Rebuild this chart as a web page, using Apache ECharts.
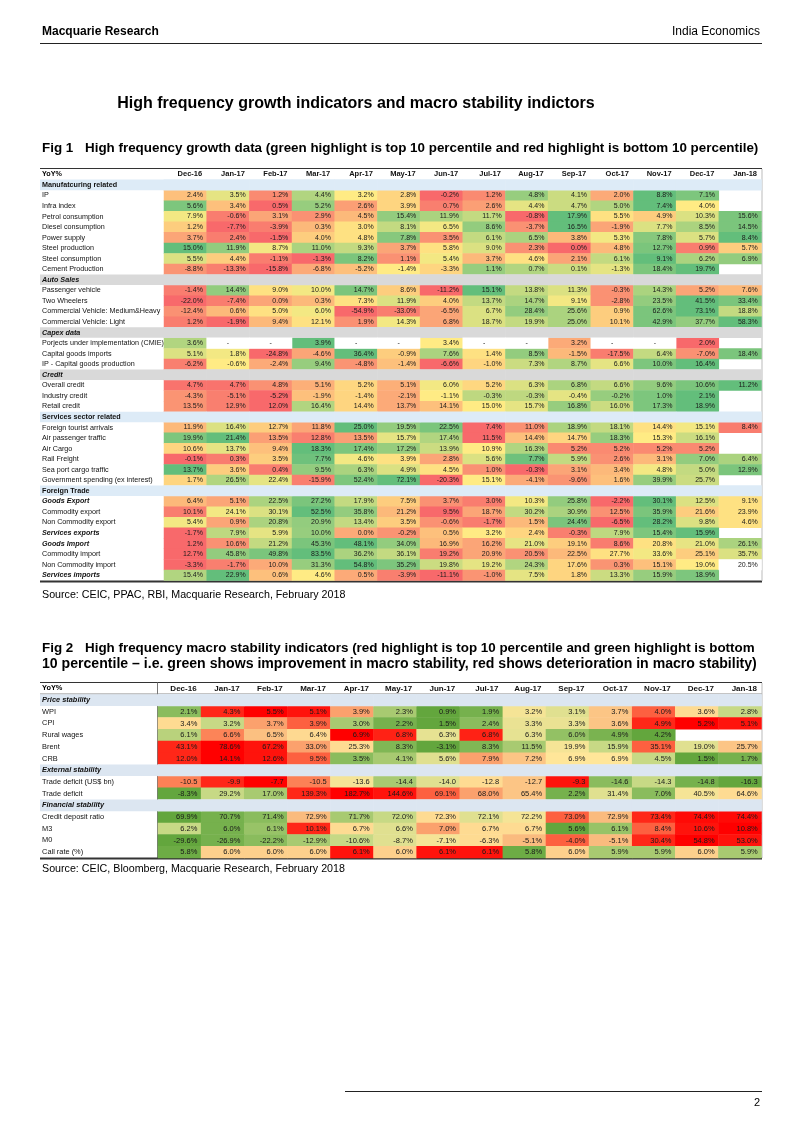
<!DOCTYPE html>
<html><head><meta charset="utf-8">
<script src="https://cdn.jsdelivr.net/npm/echarts@6/dist/echarts.min.js"></script>
<style>html,body{margin:0;padding:0;background:#fff}#c{width:802px;height:1133px}</style>
</head><body><div id="c"></div>
<script>
// ---------- categories ----------
const months = ['Dec-16','Jan-17','Feb-17','Mar-17','Apr-17','May-17','Jun-17','Jul-17','Aug-17','Sep-17','Oct-17','Nov-17','Dec-17','Jan-18'];

// ---------- Fig 1 values (YoY %) ----------
const ip            = [2.4, 3.5, 1.2, 4.4, 3.2, 2.8, -0.2, 1.2, 4.8, 4.1, 2.0, 8.8, 7.1, null];
const infraIndex    = [5.6, 3.4, 0.5, 5.2, 2.6, 3.9, 0.7, 2.6, 4.4, 4.7, 5.0, 7.4, 4.0, null];
const petrol        = [7.9, -0.6, 3.1, 2.9, 4.5, 15.4, 11.9, 11.7, -0.8, 17.9, 5.5, 4.9, 10.3, 15.6];
const diesel        = [1.2, -7.7, -3.9, 0.3, 3.0, 8.1, 6.5, 8.6, -3.7, 16.5, -1.9, 7.7, 8.5, 14.5];
const power         = [3.7, 2.4, -1.5, 4.0, 4.8, 7.8, 3.5, 6.1, 6.5, 3.8, 5.3, 7.8, 5.7, 8.4];
const steelProd     = [15.0, 11.9, 8.7, 11.0, 9.3, 3.7, 5.8, 9.0, 2.3, 0.0, 4.8, 12.7, 0.9, 5.7];
const steelCons     = [5.5, 4.4, -1.1, -1.3, 8.2, 1.1, 5.4, 3.7, 4.6, 2.1, 6.1, 9.1, 6.2, 6.9];
const cement        = [-8.8, -13.3, -15.8, -6.8, -5.2, -1.4, -3.3, 1.1, 0.7, 0.1, -1.3, 18.4, 19.7, null];
const passenger     = [-1.4, 14.4, 9.0, 10.0, 14.7, 8.6, -11.2, 15.1, 13.8, 11.3, -0.3, 14.3, 5.2, 7.6];
const twoWheelers   = [-22.0, -7.4, 0.0, 0.3, 7.3, 11.9, 4.0, 13.7, 14.7, 9.1, -2.8, 23.5, 41.5, 33.4];
const cvMedHeavy    = [-12.4, 0.6, 5.0, 6.0, -54.9, -33.0, -6.5, 6.7, 28.4, 25.6, 0.9, 62.6, 73.1, 18.8];
const cvLight       = [1.2, -1.9, 9.4, 12.1, 1.9, 14.3, 6.8, 18.7, 19.9, 25.0, 10.1, 42.9, 37.7, 58.3];
const projects      = [3.6, '-', '-', 3.9, '-', '-', 3.4, '-', '-', 3.2, '-', '-', 2.0, null];
const capGoodsImp   = [5.1, 1.8, -24.8, -4.6, 36.4, -0.9, 7.6, 1.4, 8.5, -1.5, -17.5, 6.4, -7.0, 18.4];
const ipCapGoods    = [-6.2, -0.6, -2.4, 9.4, -4.8, -1.4, -6.6, -1.0, 7.3, 8.7, 6.6, 10.0, 16.4, null];
const overallCredit = [4.7, 4.7, 4.8, 5.1, 5.2, 5.1, 6.0, 5.2, 6.3, 6.8, 6.6, 9.6, 10.6, 11.2];
const industryCredit= [-4.3, -5.1, -5.2, -1.9, -1.4, -2.1, -1.1, -0.3, -0.3, -0.4, -0.2, 1.0, 2.1, null];
const retailCredit  = [13.5, 12.9, 12.0, 16.4, 14.4, 13.7, 14.1, 15.0, 15.7, 16.8, 16.0, 17.3, 18.9, null];
const tourists      = [11.9, 16.4, 12.7, 11.8, 25.0, 19.5, 22.5, 7.4, 11.0, 18.9, 18.1, 14.4, 15.1, 8.4];
const airPassenger  = [19.9, 21.4, 13.5, 12.8, 13.5, 15.7, 17.4, 11.5, 14.4, 14.7, 18.3, 15.3, 16.1, null];
const airCargo      = [10.6, 13.7, 9.4, 18.3, 17.4, 17.2, 13.9, 10.9, 16.3, 5.2, 5.2, 5.2, 5.2, null];
const railFreight   = [-0.1, 0.3, 3.5, 7.7, 4.6, 3.9, 2.8, 5.6, 7.7, 5.9, 2.6, 3.1, 7.0, 6.4];
const seaPort       = [13.7, 3.6, 0.4, 9.5, 6.3, 4.9, 4.5, 1.0, -0.3, 3.1, 3.4, 4.8, 5.0, 12.9];
const govSpending   = [1.7, 26.5, 22.4, -15.9, 52.4, 72.1, -20.3, 15.1, -4.1, -9.6, 1.6, 39.9, 25.7, null];
const goodsExport   = [6.4, 5.1, 22.5, 27.2, 17.9, 7.5, 3.7, 3.0, 10.3, 25.8, -2.2, 30.1, 12.5, 9.1];
const commodityExp  = [10.1, 24.1, 30.1, 52.5, 35.8, 21.2, 9.5, 18.7, 30.2, 30.9, 12.5, 35.9, 21.6, 23.9];
const nonCommodityExp=[5.4, 0.9, 20.8, 20.9, 13.4, 3.5, -0.6, -1.7, 1.5, 24.4, -6.5, 28.2, 9.8, 4.6];
const servicesExp   = [-1.7, 7.9, 5.9, 10.0, 0.0, -0.2, 0.5, 3.2, 2.4, -0.3, 7.9, 15.4, 15.9, null];
const goodsImport   = [1.2, 10.6, 21.2, 45.3, 48.1, 34.0, 16.9, 16.2, 21.0, 19.1, 8.6, 20.8, 21.0, 26.1];
const commodityImp  = [12.7, 45.8, 49.8, 83.5, 36.2, 36.1, 19.2, 20.9, 20.5, 22.5, 27.7, 33.6, 25.1, 35.7];
const nonCommodityImp=[-3.3, -1.7, 10.0, 31.3, 54.8, 35.2, 19.8, 19.2, 24.3, 17.6, 0.3, 15.1, 19.0, 20.5];
const servicesImp   = [15.4, 22.9, 0.6, 4.6, 0.5, -3.9, -11.1, -1.0, 7.5, 1.8, 13.3, 15.9, 18.9, null];

// ---------- Fig 2 values ----------
const wpi           = [2.1, 4.3, 5.5, 5.1, 3.9, 2.3, 0.9, 1.9, 3.2, 3.1, 3.7, 4.0, 3.6, 2.8];
const cpi           = [3.4, 3.2, 3.7, 3.9, 3.0, 2.2, 1.5, 2.4, 3.3, 3.3, 3.6, 4.9, 5.2, 5.1];
const ruralWages    = [6.1, 6.6, 6.5, 6.4, 6.9, 6.8, 6.3, 6.8, 6.3, 6.0, 4.9, 4.2, null, null];
const brent         = [43.1, 78.6, 67.2, 33.0, 25.3, 8.3, -3.1, 8.3, 11.5, 19.9, 15.9, 35.1, 19.0, 25.7];
const crb           = [12.0, 14.1, 12.6, 9.5, 3.5, 4.1, 5.6, 7.9, 7.2, 6.9, 6.9, 4.5, 1.5, 1.7];
const tradeDefBn    = [-10.5, -9.9, -7.7, -10.5, -13.6, -14.4, -14.0, -12.8, -12.7, -9.3, -14.6, -14.3, -14.8, -16.3];
const tradeDefPct   = [-8.3, 29.2, 17.0, 139.3, 182.7, 144.6, 69.1, 68.0, 65.4, 2.2, 31.4, 7.0, 40.5, 64.6];
const creditDeposit = [69.9, 70.7, 71.4, 72.9, 71.7, 72.0, 72.3, 72.1, 72.2, 73.0, 72.9, 73.4, 74.4, 74.4];
const m3            = [6.2, 6.0, 6.1, 10.1, 6.7, 6.6, 7.0, 6.7, 6.7, 5.6, 6.1, 8.4, 10.6, 10.8];
const m0            = [-29.6, -26.9, -22.2, -12.9, -10.6, -8.7, -7.1, -6.3, -5.1, -4.0, -5.1, 30.4, 54.8, 53.0];
const callRate      = [5.8, 6.0, 6.0, 6.0, 6.1, 6.0, 6.1, 6.1, 5.8, 6.0, 5.9, 5.9, 6.0, 5.9];

// ---------- table layouts ----------
const t1Rows = [
  {section:'Manufatcuring related'},
  ['IP', ip], ['Infra index', infraIndex], ['Petrol consumption', petrol], ['Diesel consumption', diesel],
  ['Power supply', power], ['Steel production', steelProd], ['Steel consumption', steelCons], ['Cement Production', cement],
  {section:'Auto Sales'},
  ['Passenger vehicle', passenger], ['Two Wheelers', twoWheelers], ['Commercial Vehicle: Medium&Heavy', cvMedHeavy], ['Commercial Vehicle: Light', cvLight],
  {section:'Capex data'},
  ['Porjects under implementation (CMIE)', projects], ['Capital goods imports', capGoodsImp], ['IP - Capital goods production', ipCapGoods],
  {section:'Credit'},
  ['Overall credit', overallCredit], ['Industry credit', industryCredit], ['Retail credit', retailCredit],
  {section:'Services sector related'},
  ['Foreign tourist arrivals', tourists], ['Air passenger traffic', airPassenger], ['Air Cargo', airCargo],
  ['Rail Freight', railFreight], ['Sea port cargo traffic', seaPort], ['Government spending (ex interest)', govSpending],
  {section:'Foreign Trade'},
  ['Goods Export', goodsExport], ['Commodity export', commodityExp], ['Non Commodity export', nonCommodityExp], ['Services exports', servicesExp],
  ['Goods Import', goodsImport], ['Commodity import', commodityImp], ['Non Commodity import', nonCommodityImp], ['Services imports', servicesImp]
];
const t2Rows = [
  {section:'Price stability'},
  ['WPI', wpi], ['CPI', cpi], ['Rural wages', ruralWages], ['Brent', brent], ['CRB', crb],
  {section:'External stability'},
  ['Trade deficit (US$ bn)', tradeDefBn], ['Trade deficit', tradeDefPct],
  {section:'Financial stability'},
  ['Credit deposit ratio', creditDeposit], ['M3', m3], ['M0', m0], ['Call rate (%)', callRate]
];
const plainNumberRows = ['Trade deficit (US$ bn)'];
const uncoloredCells = [['Non Commodity import', 'Jan-18']];
const boldItalicRows = ['Goods Export', 'Services exports', 'Goods Import', 'Services imports'];

// ---------- styling ----------
const BLUE = '#DDEBF7', GRAY = '#D9D9D9', BLUE2 = '#DCE6F1';
const sectionStyle = {
  'Manufatcuring related': ['bb', BLUE], 'Auto Sales': ['gi', GRAY], 'Capex data': ['gi', GRAY],
  'Credit': ['gi', GRAY], 'Services sector related': ['bb', BLUE], 'Foreign Trade': ['bb', BLUE],
  'Price stability': ['bi2', BLUE2], 'External stability': ['bi2', BLUE2], 'Financial stability': ['bi2', BLUE2]
};
const LF = '"Liberation Sans", Arial, sans-serif';
const VF = '"Liberation Sans Narrow", "Liberation Sans", Arial, sans-serif';

function rankScores(arr, skip) {
  const nums = [];
  arr.forEach((v, i) => { if (typeof v === 'number' && !skip.includes(i)) nums.push({v, i}); });
  nums.sort((a, b) => a.v - b.v);
  const n = nums.length, res = {};
  let i = 0;
  while (i < n) {
    let j = i;
    while (j + 1 < n && nums[j + 1].v === nums[i].v) j++;
    const r = (i + j) / 2;
    for (let k = i; k <= j; k++) res[nums[k].i] = n > 1 ? r / (n - 1) : 0.5;
    i = j + 1;
  }
  return res;
}

function build(rows) {
  const yLabels = [], cells = [], secCells = [], plainCells = [];
  rows.forEach((r, yi) => {
    if (r.section) {
      yLabels.push(r.section);
      months.forEach((m, xi) => secCells.push({value: [xi, yi, 0], itemStyle: {color: sectionStyle[r.section][1]}}));
      return;
    }
    const name = r[0], vals = r[1];
    yLabels.push(name);
    const skip = uncoloredCells.filter(u => u[0] === name).map(u => months.indexOf(u[1]));
    const sc = rankScores(vals, skip);
    const fmt = v => plainNumberRows.includes(name) ? v.toFixed(1) : v.toFixed(1) + '%';
    vals.forEach((v, xi) => {
      if (v === '-') plainCells.push({value: [xi, yi, 0], txt: '-', label: {position: 'inside'}});
      else if (typeof v === 'number') {
        if (skip.includes(xi)) plainCells.push({value: [xi, yi, 0], txt: fmt(v)});
        else cells.push({value: [xi, yi, sc[xi]], txt: fmt(v)});
      }
    });
  });
  return {yLabels, cells, secCells, plainCells};
}

const T1 = build(t1Rows), T2 = build(t2Rows);

// geometry
const g1 = {left: 164, top: 179.6, width: 597.5, rowH: 10.55};
const g2 = {left: 158, top: 694.2, width: 603.5, rowH: 11.7};
g1.height = g1.rowH * T1.yLabels.length;
g2.height = g2.rowH * T2.yLabels.length;

function yAxisFor(gi, T, g, fs) {
  const w = g.left - 40;
  const base = {width: w, height: g.rowH, lineHeight: g.rowH, align: 'left', fontSize: fs, fontFamily: LF, color: '#111'};
  return {
    type: 'category', gridIndex: gi, data: T.yLabels, inverse: true,
    axisLine: {show: false}, axisTick: {show: false}, splitLine: {show: false},
    axisLabel: {
      interval: 0, align: 'left', margin: w, verticalAlign: 'middle',
      formatter: v => {
        const s = sectionStyle[v];
        if (s) return '{' + s[0] + '| ' + v + '}';
        if (boldItalicRows.includes(v)) return '{bi| ' + v + '}';
        return '{n| ' + v + '}';
      },
      rich: {
        n: Object.assign({}, base),
        bi: Object.assign({}, base, {fontWeight: 'bold', fontStyle: 'italic'}),
        bb: Object.assign({}, base, {fontWeight: 'bold', backgroundColor: BLUE}),
        gi: Object.assign({}, base, {fontWeight: 'bold', fontStyle: 'italic', backgroundColor: GRAY}),
        bi2: Object.assign({}, base, {fontWeight: 'bold', fontStyle: 'italic', backgroundColor: BLUE2})
      }
    }
  };
}
function xAxisFor(gi, g, fs) {
  const cw = g.width / months.length;
  return {
    type: 'category', gridIndex: gi, data: months, position: 'top',
    axisLine: {show: false}, axisTick: {show: false}, splitLine: {show: false},
    axisLabel: {
      interval: 0, margin: g.rowH / 2, verticalAlign: 'middle',
      formatter: v => '{h|' + v + '}',
      rich: {h: {width: cw - 9, align: 'right', fontWeight: 'bold', fontSize: fs, fontFamily: VF, color: '#111'}}
    }
  };
}
function cellSeries(gi, data, fs, extra) {
  return Object.assign({
    type: 'heatmap', xAxisIndex: gi, yAxisIndex: gi, data: data,
    emphasis: {disabled: true}, animation: false, silent: true,
    label: {show: true, position: 'insideRight', distance: 4, formatter: p => p.data.txt || '',
      fontSize: fs, fontFamily: VF, color: '#1a1a1a'}
  }, extra || {});
}

const t1Colors = ['#F8696B', '#FFEB84', '#63BE7B'];
const t2Colors = ['#63A63D', '#8DBE60', '#D2DE8C', '#FFE699', '#FAB77C', '#FF2A1A', '#FF0000'];

function txt(x, y, text, size, opts) {
  return Object.assign({type: 'text', x: x, y: y, silent: true,
    style: Object.assign({text: text, fontSize: size, fontFamily: LF, fill: '#000',
      align: 'left', verticalAlign: 'middle', textAlign: 'left', textVerticalAlign: 'middle'}, opts || {})});
}
function ln(x1, y1, x2, y2, w, c) {
  return {type: 'line', silent: true, shape: {x1, y1, x2, y2}, style: {stroke: c || '#000', lineWidth: w || 1}};
}

const option = {
  backgroundColor: '#fff',
  animation: false,
  grid: [
    {left: g1.left, top: g1.top, width: g1.width, height: g1.height},
    {left: g2.left, top: g2.top, width: g2.width, height: g2.height}
  ],
  xAxis: [xAxisFor(0, g1, 7.5), xAxisFor(1, g2, 8)],
  yAxis: [yAxisFor(0, T1, g1, 7.2), yAxisFor(1, T2, g2, 7.4)],
  visualMap: [
    {type: 'continuous', show: false, seriesIndex: 0, dimension: 2, min: 0, max: 1, inRange: {color: t1Colors}},
    {type: 'continuous', show: false, seriesIndex: 3, dimension: 2, min: 0, max: 1, inRange: {color: t2Colors}}
  ],
  series: [
    cellSeries(0, T1.cells, 7),
    cellSeries(0, T1.secCells, 7, {label: {show: false}}),
    cellSeries(0, T1.plainCells, 7, {itemStyle: {color: '#fff'}}),
    cellSeries(1, T2.cells, 7.5),
    cellSeries(1, T2.secCells, 7.5, {label: {show: false}}),
    cellSeries(1, T2.plainCells, 7.5, {itemStyle: {color: '#fff'}})
  ],
  graphic: {elements: [
    txt(42, 32, 'Macquarie Research', 12, {fontWeight: 'bold'}),
    txt(760, 32, 'India Economics', 12, {align: 'right', textAlign: 'right'}),
    ln(40, 43.5, 762, 43.5, 1, '#222'),
    txt(356, 104, 'High frequency growth indicators and macro stability indictors', 16, {fontWeight: 'bold', align: 'center', textAlign: 'center'}),
    txt(42, 148, 'Fig 1', 13.4, {fontWeight: 'bold'}),
    txt(85, 148, 'High frequency growth data (green highlight is top 10 percentile and red highlight is bottom 10 percentile)', 13.4, {fontWeight: 'bold'}),
    ln(40, 168.5, 762, 168.5, 1, '#333'),
    txt(42, 174.3, 'YoY%', 7.2, {fontWeight: 'bold'}),
    ln(40, 581.5, 762, 581.5, 2, '#333'),
    ln(762, 169, 762, 581, 1, '#bbb'),
    txt(42, 595, 'Source: CEIC, PPAC, RBI, Macquarie Research, February 2018', 10.7),
    txt(42, 648, 'Fig 2', 13.4, {fontWeight: 'bold'}),
    txt(85, 648, 'High frequency macro stability indicators (red highlight is top 10 percentile and green highlight is bottom', 13.4, {fontWeight: 'bold'}),
    txt(42, 664, '10 percentile \u2013 i.e. green shows improvement in macro stability, red shows deterioration in macro stability)', 14.1, {fontWeight: 'bold'}),
    ln(40, 682.5, 762, 682.5, 1, '#333'),
    txt(42, 688.3, 'YoY%', 7.4, {fontWeight: 'bold'}),
    ln(40, 694, 762, 694, 1, '#888'),
    ln(157.5, 682.5, 157.5, 858, 1, '#777'),
    ln(762, 683, 762, 858, 1, '#bbb'),
    ln(40, 858.5, 762, 858.5, 2, '#333'),
    txt(42, 869, 'Source: CEIC, Bloomberg, Macquarie Research, February 2018', 10.7),
    ln(345, 1091.5, 762, 1091.5, 1, '#222'),
    txt(760, 1103, '2', 11, {align: 'right', textAlign: 'right'})
  ]}
};
const chart = echarts.init(document.getElementById('c'), null, {renderer: 'canvas'});
chart.setOption(option);
</script>
</body></html>
